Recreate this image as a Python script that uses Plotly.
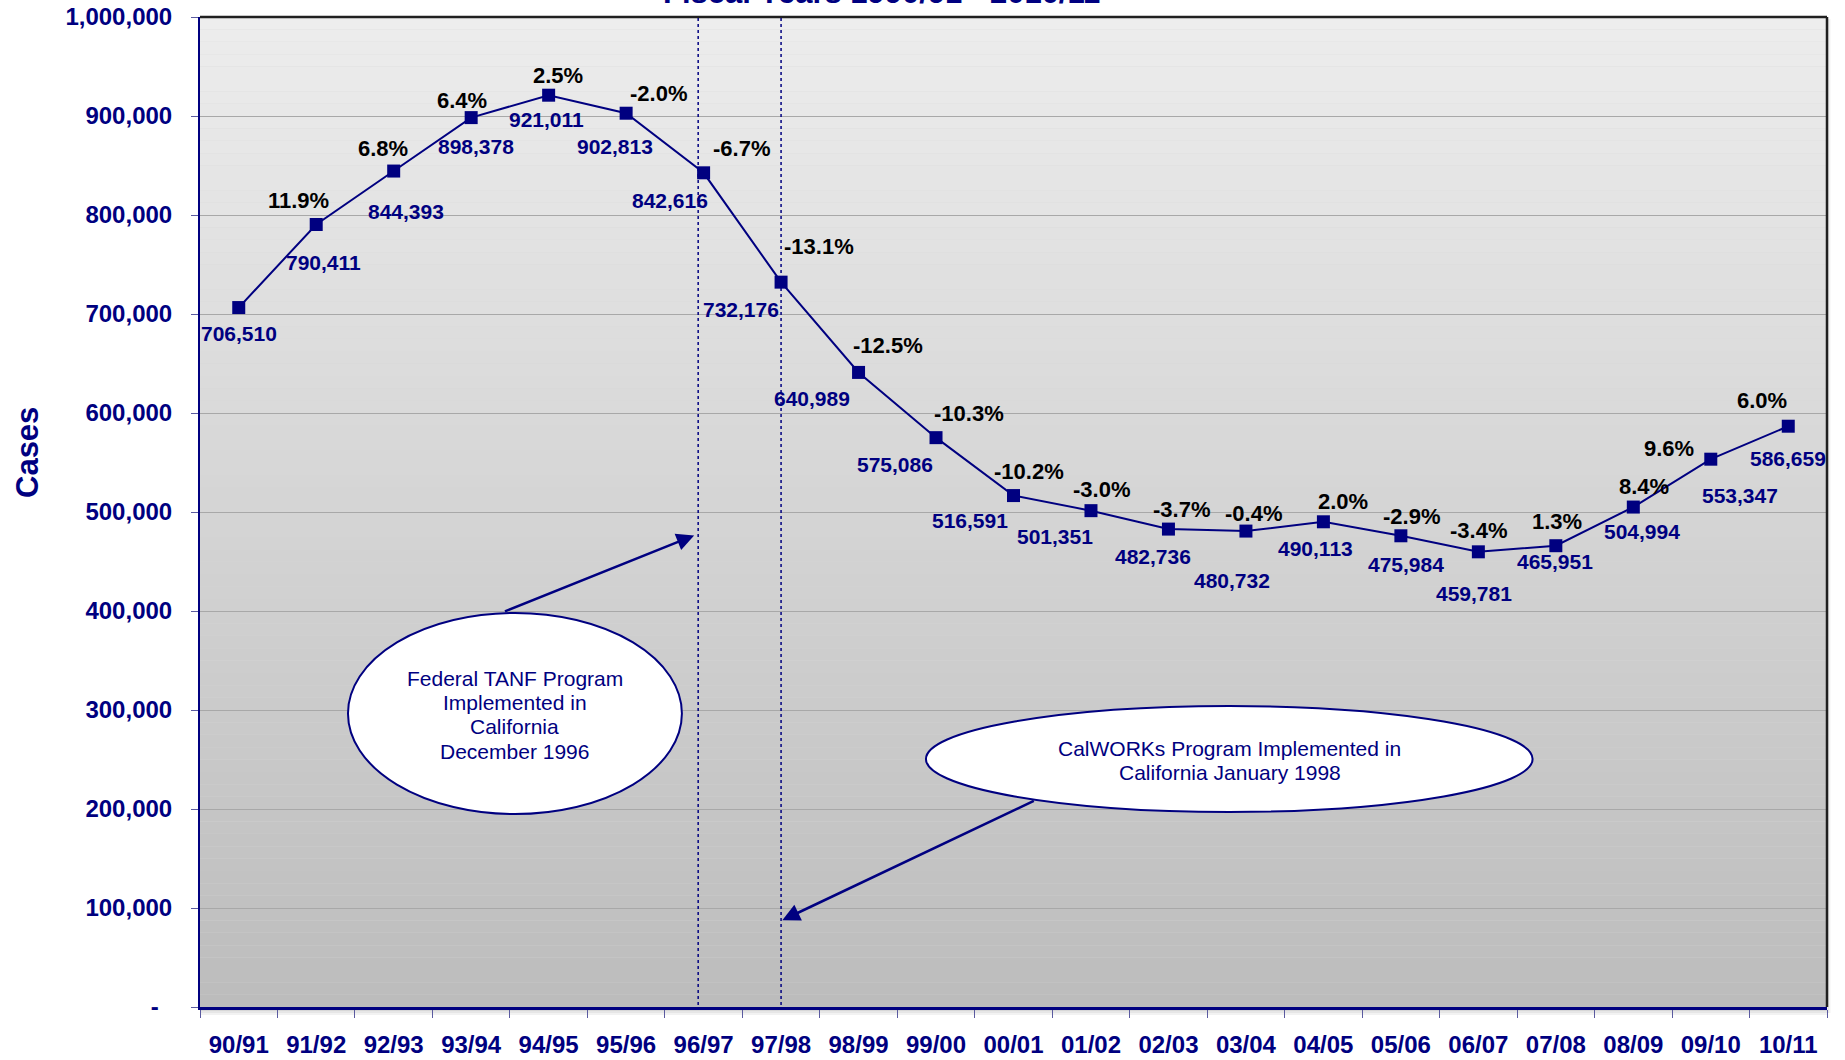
import plotly.graph_objects as go

# ---------------- data ----------------
fiscal_years = ["90/91", "91/92", "92/93", "93/94", "94/95", "95/96", "96/97", "97/98",
                "98/99", "99/00", "00/01", "01/02", "02/03", "03/04", "04/05", "05/06",
                "06/07", "07/08", "08/09", "09/10", "10/11"]
cases = [706510, 790411, 844393, 898378, 921011, 902813, 842616, 732176,
         640989, 575086, 516591, 501351, 482736, 480732, 490113, 475984,
         459781, 465951, 504994, 553347, 586659]
pct_change = ["", "11.9%", "6.8%", "6.4%", "2.5%", "-2.0%", "-6.7%", "-13.1%",
              "-12.5%", "-10.3%", "-10.2%", "-3.0%", "-3.7%", "-0.4%", "2.0%", "-2.9%",
              "-3.4%", "1.3%", "8.4%", "9.6%", "6.0%"]
y_tick_vals = [0, 100000, 200000, 300000, 400000, 500000, 600000, 700000, 800000, 900000, 1000000]
y_tick_text = ["-\u00a0\u00a0", "100,000", "200,000", "300,000", "400,000", "500,000",
               "600,000", "700,000", "800,000", "900,000", "1,000,000"]
tanf_lines = ["Federal TANF Program", "Implemented in", "California", "December 1996"]
calworks_lines = ["CalWORKs Program Implemented in", "California January 1998"]

# label placement offsets (pixels, + = right / down)
val_dx = [0, 7, 12, 5, -2, -11, -34, -40, -47, -41, -44, -36, -15, -14, -8, 5, -4, -1, 9, 29, 0]
val_dy = [26, 38, 40, 29, 24, 33, 28, 27, 26, 27, 25, 26, 27, 49, 27, 29, 42, 16, 24, 36, 32]
pct_dx = [0, -18, -11, -9, 9, 32, 38, 38, 29, 33, 15, 11, 13, 8, 20, 11, 0, 1, 11, -42, -26]
pct_dy = [0, -24, -23, -17, -20, -20, -24, -36, -27, -24, -24, -21, -20, -18, -20, -19, -21, -24, -21, -11, -26]

NAVY = "#000080"
FONT = "Arial, Liberation Sans, sans-serif"
PLOT_TOP, PLOT_BOTTOM = 17, 1007
PX_PER_UNIT = (PLOT_BOTTOM - PLOT_TOP) / 1000000


def px_to_val(py):
    return (PLOT_BOTTOM - py) / PX_PER_UNIT


fig = go.Figure()
fig.add_trace(go.Scatter(
    x=fiscal_years, y=cases, mode="lines+markers",
    line=dict(color=NAVY, width=2),
    marker=dict(symbol="square", size=13, color=NAVY),
    hoverinfo="x+y", showlegend=False,
))

shapes = []
# gradient plot background
N = 80
top_c, bot_c = 237, 188
for k in range(N):
    c = round(top_c + (bot_c - top_c) * (k + 0.5) / N)
    shapes.append(dict(type="rect", xref="paper", yref="paper", x0=0, x1=1,
                       y0=1 - (k + 1) / N, y1=1 - k / N, layer="below",
                       line=dict(width=0), fillcolor=f"rgb({c},{c},{c})"))
# floor shadow under x axis
for k, c in enumerate([200, 215, 230, 242]):
    shapes.append(dict(type="rect", xref="paper", yref="paper", x0=0, x1=1.0,
                       y0=-(k + 1) * 2 / 990, y1=-k * 2 / 990, layer="below",
                       line=dict(width=0), fillcolor=f"rgb({c},{c},{c})"))
# right shadow
for k, c in enumerate([215, 232, 245]):
    shapes.append(dict(type="rect", xref="paper", yref="paper",
                       x0=1 + (k + 0.6) / 1627, x1=1 + (k + 1.6) / 1627,
                       y0=-6 / 990, y1=1 - 2 / 990, layer="below",
                       line=dict(width=0), fillcolor=f"rgb({c},{c},{c})"))
# top and right borders
shapes.append(dict(type="line", xref="paper", yref="paper", x0=0, x1=1, y0=1, y1=1,
                   line=dict(color="#202020", width=2.5), layer="above"))
shapes.append(dict(type="line", xref="paper", yref="paper", x0=1, x1=1, y0=0, y1=1,
                   line=dict(color="#202020", width=2.5), layer="above"))
# dotted vertical event lines
for xv in [5.93, 7.0]:
    shapes.append(dict(type="line", xref="x", yref="paper", x0=xv, x1=xv, y0=0.002, y1=1,
                       line=dict(color=NAVY, width=1.5, dash="dot"), layer="above"))
# ellipses
shapes.append(dict(type="circle", xref="x", yref="y", x0=1.41, x1=5.72,
                   y0=px_to_val(814), y1=px_to_val(613),
                   fillcolor="white", line=dict(color=NAVY, width=2), layer="above"))
shapes.append(dict(type="circle", xref="x", yref="y", x0=8.87, x1=16.70,
                   y0=px_to_val(812), y1=px_to_val(706),
                   fillcolor="white", line=dict(color=NAVY, width=2), layer="above"))

annotations = []
for i, (cat, v) in enumerate(zip(fiscal_years, cases)):
    annotations.append(dict(x=cat, y=v, xref="x", yref="y", text=f"{v:,}", showarrow=False,
                            xshift=val_dx[i], yshift=-val_dy[i],
                            font=dict(family=FONT, size=21, color=NAVY, weight="bold")))
    if pct_change[i]:
        annotations.append(dict(x=cat, y=v, xref="x", yref="y", text=pct_change[i], showarrow=False,
                                xshift=pct_dx[i], yshift=-pct_dy[i],
                                font=dict(family=FONT, size=22, color="black", weight="bold")))

# ellipse texts (one annotation per line)
for line_txt, py in zip(tanf_lines, [678, 702, 726, 751]):
    annotations.append(dict(x=3.565, y=px_to_val(py), xref="x", yref="y", showarrow=False,
                            text=line_txt, font=dict(family=FONT, size=21, color=NAVY)))
for line_txt, py in zip(calworks_lines, [748, 772]):
    annotations.append(dict(x=12.79, y=px_to_val(py), xref="x", yref="y", showarrow=False,
                            text=line_txt, font=dict(family=FONT, size=21, color=NAVY)))
# arrows
annotations.append(dict(x=5.878, y=px_to_val(535.4), xref="x", yref="y", text="", showarrow=True,
                        ax=-190.7, ay=76.5, arrowhead=2, arrowsize=1.4, arrowwidth=2.5,
                        arrowcolor=NAVY))
annotations.append(dict(x=7.016, y=px_to_val(920.2), xref="x", yref="y", text="", showarrow=True,
                        ax=253, ay=-120, arrowhead=2, arrowsize=1.4, arrowwidth=2.5,
                        arrowcolor=NAVY))
# title (mostly cut off at top, as in the source) and y-axis title
annotations.append(dict(x=0.419, y=1 + 5 / 990, xref="paper", yref="paper", showarrow=False,
                        xanchor="center", yanchor="bottom", text="Fiscal Years 1990/91 - 2010/11",
                        font=dict(family=FONT, size=31, color=NAVY, weight="bold")))
annotations.append(dict(x=-172 / 1627, y=(1007 - 453) / 990, xref="paper", yref="paper",
                        showarrow=False, textangle=-90, text="Cases",
                        xanchor="center", yanchor="middle",
                        font=dict(family=FONT, size=31, color=NAVY, weight="bold")))

fig.update_layout(
    width=1845, height=1060,
    margin=dict(l=200, r=18, t=17, b=53, autoexpand=False),
    paper_bgcolor="white", plot_bgcolor="rgb(215,215,215)",
    shapes=shapes, annotations=annotations,
    font=dict(family=FONT),
    xaxis=dict(type="category", range=[-0.5, 20.5], tickson="boundaries",
               showgrid=False, showline=True, linecolor=NAVY, linewidth=3,
               ticks="outside", ticklen=8, tickcolor="#5a5aa0", tickwidth=1,
               ticklabelstandoff=14, automargin=False,
               tickfont=dict(family=FONT, size=24, color=NAVY, weight="bold"),
               fixedrange=True),
    yaxis=dict(range=[0, 1000000], tickvals=y_tick_vals, ticktext=y_tick_text,
               showgrid=True, gridcolor="#a8a8a8", gridwidth=1, zeroline=False,
               showline=True, linecolor=NAVY, linewidth=2,
               ticks="outside", ticklen=7, tickcolor="#5a5aa0", tickwidth=1,
               ticklabelstandoff=14, automargin=False,
               tickfont=dict(family=FONT, size=24, color=NAVY, weight="bold"),
               fixedrange=True),
)

fig.write_html("out.html", config={"displayModeBar": False},
               post_script="document.body.style.margin='0';document.body.style.overflow='hidden';")
